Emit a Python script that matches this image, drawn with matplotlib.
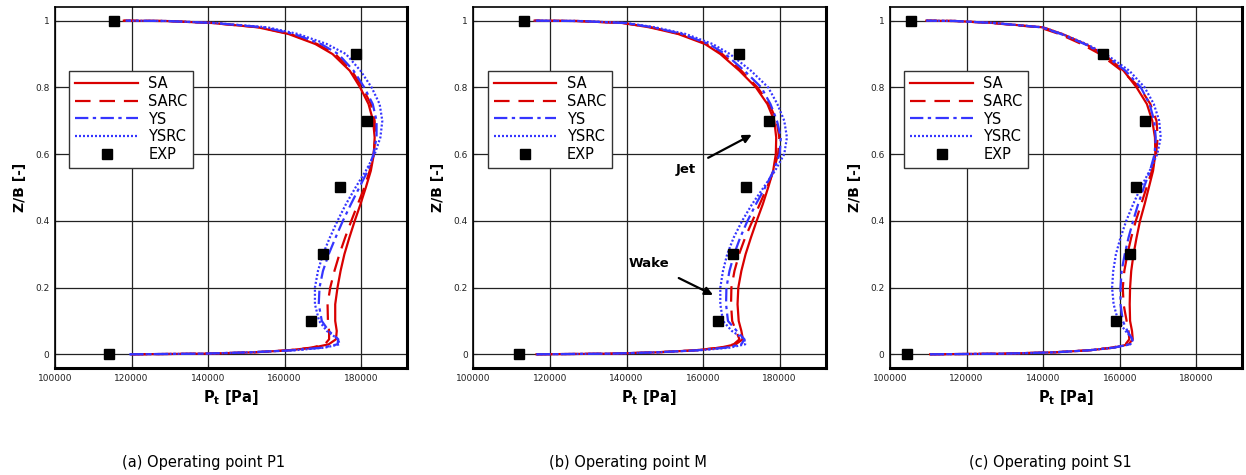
import matplotlib
matplotlib.use('Agg')
import matplotlib.pyplot as plt
from matplotlib.ticker import FormatStrFormatter

# Spanwise stations Z/B shared by every simulated profile
z_levels = [0, 0.002, 0.006, 0.012, 0.02, 0.03, 0.045, 0.07, 0.1, 0.15, 0.2, 0.25,
            0.3, 0.35, 0.4, 0.45, 0.5, 0.55, 0.6, 0.65, 0.7, 0.75, 0.8, 0.85,
            0.9, 0.93, 0.96, 0.98, 0.993, 0.999, 1.0]

# (a) Operating point P1
p1_sa = [120000, 140000, 152000, 161000, 167500, 171500, 173400, 173600, 173200, 173200, 173800, 174600,
         175600, 176900, 178300, 179800, 181200, 182500, 183300, 183500, 183100, 181900, 179700, 177000,
         172500, 168000, 161000, 153000, 141000, 129000, 118000]
p1_sarc = [120000, 140000, 152000, 161000, 167000, 170500, 171600, 171600, 171300, 171200, 171900, 173000,
           174300, 175800, 177400, 179100, 180800, 182200, 183200, 183700, 183500, 182500, 180300, 177500,
           173200, 168500, 161500, 153500, 141000, 129000, 118000]
p1_ys = [119500, 139000, 151000, 162000, 170000, 173800, 174000, 171500, 169700, 168900, 169100, 170000,
         171500, 173300, 175200, 177300, 179500, 181700, 183200, 184000, 184000, 183000, 180800, 178000,
         174000, 169500, 162500, 154500, 141500, 129000, 118500]
p1_ysrc = [119500, 139000, 151000, 162500, 170500, 174300, 174000, 171000, 169000, 167900, 167900, 168700,
           170000, 171800, 173800, 176000, 178500, 181200, 183500, 185000, 185500, 184800, 182700, 179800,
           176000, 171000, 163500, 155500, 142000, 129500, 118500]
p1_exp_p = [114200, 166800, 169900, 174500, 181400, 178600, 115500]
p1_exp_z = [0, 0.1, 0.3, 0.5, 0.7, 0.9, 1.0]

# (b) Operating point M
m_sa = [116500, 136000, 148000, 158000, 164500, 168500, 170400, 170000, 169300, 169000, 169200, 170000,
        171100, 172500, 174000, 175600, 177000, 178300, 179000, 179100, 178600, 176800, 173800, 169500,
        164500, 160500, 153500, 146000, 139000, 127000, 116000]
m_sarc = [116500, 136000, 148000, 158000, 164500, 168000, 169500, 168600, 167600, 167300, 167400, 168200,
          169400, 171000, 172900, 174800, 176700, 178400, 179600, 179900, 179200, 177300, 174200, 170000,
          165000, 161000, 154000, 146500, 139000, 127000, 116000]
m_ys = [116500, 136000, 148000, 158500, 166000, 170000, 170800, 168800, 166500, 166000, 166100, 166900,
        168100, 169700, 171600, 173800, 176200, 178400, 180000, 180300, 179300, 177600, 175200, 170800,
        165800, 161500, 154500, 147000, 139500, 127500, 116000]
m_ysrc = [116500, 136000, 148000, 159000, 167000, 171000, 170800, 167500, 165200, 164500, 164500, 165200,
          166300, 168000, 170200, 172800, 175800, 178800, 181200, 181900, 181200, 179400, 177000, 172500,
          167000, 162500, 155500, 147500, 140000, 128000, 116000]
m_exp_p = [111800, 163800, 167900, 171300, 177100, 169400, 113100]
m_exp_z = [0, 0.1, 0.3, 0.5, 0.7, 0.9, 1.0]

# (c) Operating point S1
s1_sa = [110500, 130000, 143000, 152000, 158500, 162300, 163400, 163200, 162700, 162600, 162700, 163000,
         163600, 164400, 165300, 166500, 167600, 168700, 169300, 169200, 168500, 167100, 164400, 161000,
         155800, 151000, 145000, 140000, 127000, 117000, 109500]
s1_sarc = [110500, 130000, 143000, 152000, 158000, 161500, 162500, 162300, 161800, 161000, 160800, 161200,
           162000, 163000, 164200, 165600, 167000, 168400, 169500, 169900, 169600, 168000, 165200, 160500,
           154800, 150000, 144200, 139000, 126500, 117000, 109500]
s1_ys = [110500, 130000, 143000, 152000, 158500, 162500, 163300, 162000, 160800, 160200, 160200, 160500,
         161300, 162300, 163500, 164800, 166300, 167900, 169100, 169400, 169000, 167800, 165500, 161500,
         155800, 150800, 144600, 139500, 127000, 117000, 109500]
s1_ysrc = [110500, 130000, 143000, 152000, 158500, 162800, 163500, 161500, 159600, 158400, 158000, 158300,
           159000, 160200, 161700, 163500, 165500, 167800, 169800, 170700, 170300, 168900, 166500, 162500,
           156300, 151300, 145000, 140000, 127500, 117000, 109500]
s1_exp_p = [104500, 159100, 162600, 164300, 166500, 155500, 105600]
s1_exp_z = [0, 0.1, 0.3, 0.5, 0.7, 0.9, 1.0]

captions = ['(a) Operating point P1', '(b) Operating point M', '(c) Operating point S1']
x_ticks = [100000, 120000, 140000, 160000, 180000]
y_ticks = [0, 0.2, 0.4, 0.6, 0.8, 1.0]

RED = '#d90000'
BLUE = '#3535ff'

panels = [
    (p1_sa, p1_sarc, p1_ys, p1_ysrc, p1_exp_p, p1_exp_z),
    (m_sa, m_sarc, m_ys, m_ysrc, m_exp_p, m_exp_z),
    (s1_sa, s1_sarc, s1_ys, s1_ysrc, s1_exp_p, s1_exp_z),
]

fig = plt.figure(figsize=(12.46, 4.75), dpi=100)
lefts = [0.0441, 0.3799, 0.7143]
caption_x = [0.163, 0.504, 0.843]

for i, (sa, sarc, ys, ysrc, ep, ez) in enumerate(panels):
    ax = fig.add_axes([lefts[i], 0.2253, 0.2827, 0.760])
    ax.plot(sa, z_levels, color=RED, lw=1.6, label='SA')
    ax.plot(sarc, z_levels, color=RED, lw=1.6, dashes=(7, 4), label='SARC')
    ax.plot(ys, z_levels, color=BLUE, lw=1.6, dashes=(6, 2, 1.5, 2), label='YS')
    ax.plot(ysrc, z_levels, color=BLUE, lw=1.6, dashes=(0.9, 0.9), label='YSRC')
    ax.plot(ep, ez, 's', color='black', ms=6.5, ls='none', label='EXP')

    ax.set_xlim(100000, 192000)
    ax.set_ylim(-0.041, 1.041)
    ax.set_xticks(x_ticks)
    ax.set_yticks(y_ticks)
    ax.yaxis.set_major_formatter(FormatStrFormatter('%g'))
    ax.xaxis.set_major_formatter(FormatStrFormatter('%d'))
    ax.tick_params(labelsize=6.5, direction='in', length=3, colors='#222222', pad=4)
    ax.grid(True, color='#222222', lw=0.9)
    ax.set_axisbelow(True)
    for side in ['left', 'top']:
        ax.spines[side].set_linewidth(1.2)
    for side in ['right', 'bottom']:
        ax.spines[side].set_linewidth(2.2)

    ax.set_ylabel('Z/B [-]', fontsize=10, fontweight='bold', labelpad=6)
    ax.set_xlabel(r'$\mathbf{P_t}$ [Pa]', fontsize=10.5, fontweight='bold', labelpad=4)

    leg = ax.legend(loc='upper left', bbox_to_anchor=(0.041, 0.824), borderaxespad=0,
                    fontsize=10.5, handlelength=4.3, fancybox=False, framealpha=1,
                    edgecolor='#333333', borderpad=0.4, labelspacing=0.18, handletextpad=0.7)
    leg.get_frame().set_linewidth(1.0)

    fig.text(caption_x[i], 0.027, captions[i], ha='center', va='center', fontsize=10.5)

    if i == 1:
        ax.annotate('Jet', xy=(172700, 0.658), xytext=(155400, 0.553),
                    fontsize=9.5, fontweight='bold', ha='center', va='center',
                    arrowprops=dict(arrowstyle='-|>', color='black', lw=1.6,
                                    mutation_scale=12, shrinkA=8, shrinkB=0))
        ax.annotate('Wake', xy=(162600, 0.178), xytext=(145800, 0.273),
                    fontsize=9.5, fontweight='bold', ha='center', va='center',
                    arrowprops=dict(arrowstyle='-|>', color='black', lw=1.6,
                                    mutation_scale=12, shrinkA=9, shrinkB=0))

fig.savefig('out.png', dpi=100)
